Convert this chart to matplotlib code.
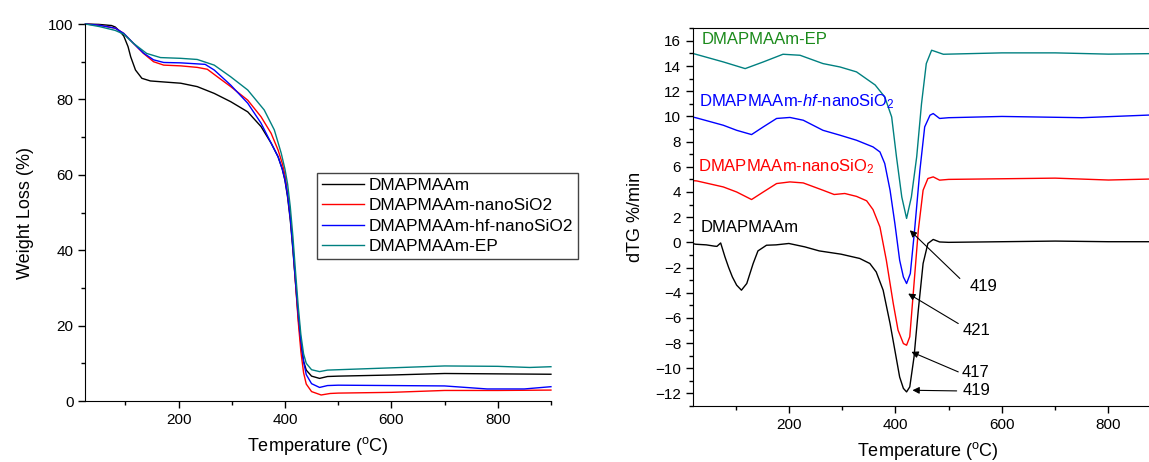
import numpy as np
import matplotlib
matplotlib.use('Agg')
import matplotlib.pyplot as plt
from matplotlib.ticker import MultipleLocator

plt.rcParams['font.family'] = ['Liberation Sans', 'DejaVu Sans']
plt.rcParams['mathtext.fontset'] = 'custom'
plt.rcParams['mathtext.rm'] = 'Liberation Sans'
plt.rcParams['mathtext.it'] = 'Liberation Sans:italic'

# ---- TG data (weight loss %) ----
t_tg_base = [25, 50, 74, 81, 90, 97, 105, 110, 119, 131, 147, 175, 204, 235, 267, 298, 330, 355,
             374, 387, 395, 400, 405, 410, 415, 420, 425, 430, 435, 440, 450, 465, 480, 500, 600,
             700, 800, 900]
w_tg_base = [100, 99.9, 99.6, 99.2, 98.0, 96.8, 94.0, 91.3, 87.8, 85.6, 84.9, 84.6, 84.3, 83.4,
             81.6, 79.4, 76.7, 72.8, 68.4, 64.8, 61.5, 58.5, 54, 48, 40, 31, 22, 15, 10.5, 8.2,
             6.6, 6.0, 6.5, 6.6, 6.9, 7.3, 7.2, 7.1]

t_tg_nano = [25, 50, 81, 97, 115, 134, 153, 172, 204, 235, 254, 273, 298, 330, 355, 374, 387, 395,
             400, 405, 410, 415, 420, 425, 430, 435, 440, 450, 468, 485, 500, 600, 700, 800, 900]
w_tg_nano = [100, 99.7, 98.9, 97.5, 94.9, 92.2, 90.0, 89.1, 88.9, 88.5, 88.0, 86.0, 83.4, 79.8,
             75.4, 71.0, 66.6, 63, 60, 55, 49, 41, 31, 21, 13, 7.5, 4.5, 2.5, 1.6, 2.0, 2.1, 2.3,
             2.8, 2.8, 2.9]

t_tg_hf = [25, 50, 81, 97, 115, 134, 153, 172, 204, 250, 267, 298, 330, 355, 374, 387, 395, 400,
           405, 410, 415, 420, 425, 430, 435, 440, 450, 465, 480, 500, 600, 700, 780, 850, 900]
w_tg_hf = [100, 99.7, 98.9, 97.5, 94.9, 92.3, 90.5, 89.8, 89.7, 89.3, 87.8, 83.8, 79.0, 73.7, 68.4,
           64.8, 61.5, 58.7, 54.5, 48.5, 40.5, 31.5, 23, 16, 10.5, 7, 4.6, 3.6, 4.1, 4.2, 4.1, 4.0,
           3.2, 3.2, 3.8]

t_tg_ep = [25, 52, 81, 97, 115, 140, 166, 204, 235, 267, 298, 330, 361, 380, 393, 400, 405, 410,
           415, 420, 425, 430, 435, 440, 450, 465, 480, 500, 600, 700, 800, 860, 900]
w_tg_ep = [100, 99.3, 98.3, 97.3, 94.9, 92.2, 91.1, 90.9, 90.6, 89.1, 86.0, 82.5, 77.2, 71.9, 65.7,
           61.5, 57.5, 51.5, 43.5, 34, 25, 17.5, 12.5, 10, 8.3, 7.8, 8.2, 8.3, 8.8, 9.3, 9.2, 8.9,
           9.1]

# ---- dTG data (%/min, curves offset by 0 / 5 / 10 / 15) ----
t_dtg_base = [20, 25, 45, 60, 65, 72, 80, 87, 94, 102, 111, 121, 133, 142, 158, 176, 200, 230, 257,
              298, 333, 352, 364, 377, 390, 399, 408, 415, 421, 427, 435, 443, 452, 461, 471, 483,
              500, 600, 700, 800, 900]
v_dtg_base = [-0.1, -0.15, -0.2, -0.3, -0.32, -0.05, -1.15, -2.0, -2.75, -3.4, -3.8, -3.27, -1.68,
              -0.68, -0.23, -0.2, -0.09, -0.36, -0.68, -0.94, -1.28, -1.68, -2.35, -3.8, -6.45,
              -8.57, -10.7, -11.6, -11.88, -11.48, -9.1, -5.39, -1.68, -0.09, 0.23, 0.03, 0.0,
              0.05, 0.1, 0.05, 0.05]

t_dtg_nano = [20, 27, 77, 102, 130, 152, 177, 202, 227, 264, 285, 305, 327, 346, 358, 371, 383,
              396, 405, 415, 421, 427, 433, 443, 452, 461, 471, 483, 500, 600, 700, 800, 900]
v_dtg_nano = [4.9, 4.88, 4.4, 4.0, 3.4, 4.0, 4.67, 4.8, 4.72, 4.14, 3.8, 3.88, 3.65, 3.3, 2.6,
              1.22, -1.42, -4.86, -6.98, -8.04, -8.17, -7.5, -4.33, 0.96, 4.14, 5.07, 5.2, 4.94,
              5.0, 5.05, 5.1, 4.95, 5.05]

t_dtg_hf = [20, 27, 77, 102, 130, 152, 177, 202, 227, 264, 296, 327, 358, 371, 380, 390, 399, 408,
            415, 421, 428, 436, 446, 455, 465, 471, 483, 500, 600, 750, 900]
v_dtg_hf = [9.95, 9.88, 9.3, 8.9, 8.56, 9.17, 9.84, 9.92, 9.7, 8.9, 8.51, 8.11, 7.58, 7.18, 6.26,
            4.14, 1.5, -1.42, -2.75, -3.27, -2.48, 0.96, 5.73, 9.17, 10.1, 10.23, 9.84, 9.9, 10.0,
            9.9, 10.15]

t_dtg_ep = [20, 27, 77, 118, 152, 189, 221, 264, 296, 327, 362, 380, 393, 402, 412, 421, 430, 440,
            449, 458, 468, 477, 490, 600, 700, 800, 900]
v_dtg_ep = [15.0, 14.92, 14.33, 13.8, 14.33, 14.94, 14.86, 14.2, 13.93, 13.54, 12.5, 11.55, 9.96,
            6.8, 3.6, 1.9, 3.6, 6.8, 11.0, 14.2, 15.26, 15.13, 14.94, 15.05, 15.05, 14.95, 15.0]

names = ['DMAPMAAm', 'DMAPMAAm-nanoSiO2', 'DMAPMAAm-hf-nanoSiO2', 'DMAPMAAm-EP']
colors = ['black', 'red', 'blue', '#008080']

# peak labels: arrow tip, arrow tail, text position (data coords)
peak_labels = ['419', '421', '417', '419']
peak_tips = [(427, 0.96), (424, -4.07), (430, -8.7), (432, -11.75)]
peak_tails = [(521, -2.87), (518, -6.45), (518, -10.29), (515, -11.8)]
peak_text = [(540, -3.54), (527, -6.98), (524, -10.3), (527, -11.8)]

fig = plt.figure(figsize=(11.49, 4.62), dpi=100)

# ---------------- left: TG ----------------
ax1 = fig.add_axes([0.0744, 0.132, 0.4051, 0.816])
tg = [(t_tg_base, w_tg_base), (t_tg_nano, w_tg_nano), (t_tg_hf, w_tg_hf), (t_tg_ep, w_tg_ep)]
for (t, w), name, c in zip(tg, names, colors):
    ax1.plot(t, w, color=c, lw=1.0, label=name, clip_on=False)
ax1.set_xlim(25, 900)
ax1.set_ylim(0, 100)
ax1.spines['top'].set_visible(False)
ax1.spines['right'].set_visible(False)
ax1.xaxis.set_major_locator(MultipleLocator(200))
ax1.xaxis.set_minor_locator(MultipleLocator(100))
ax1.yaxis.set_major_locator(MultipleLocator(20))
ax1.yaxis.set_minor_locator(MultipleLocator(10))
ax1.tick_params(which='major', direction='out', length=5, width=1, labelsize=11)
ax1.tick_params(which='minor', direction='out', length=3, width=1)
ax1.set_xlabel('Temperature ($^{\\mathrm{o}}$C)', fontsize=13, labelpad=6)
ax1.set_ylabel('Weight Loss (%)', fontsize=13, labelpad=10)
ax1.legend(loc='upper left', bbox_to_anchor=(317 / 1149, 1 - 173 / 462),
           bbox_transform=fig.transFigure, fontsize=12.4, frameon=True, fancybox=False,
           edgecolor='#444444', framealpha=1, borderaxespad=0, handlelength=2.4,
           handletextpad=0.3, labelspacing=0.3, borderpad=0.3)

# ---------------- right: dTG ----------------
ax2 = fig.add_axes([0.6031, 0.1212, 0.408, 0.8175])
dtg = [(t_dtg_base, v_dtg_base), (t_dtg_nano, v_dtg_nano), (t_dtg_hf, v_dtg_hf), (t_dtg_ep, v_dtg_ep)]
for (t, v), c in zip(dtg, colors):
    ax2.plot(t, v, color=c, lw=1.0)
ax2.set_xlim(20, 900)
ax2.set_ylim(-13, 17)
ax2.xaxis.set_major_locator(MultipleLocator(200))
ax2.xaxis.set_minor_locator(MultipleLocator(100))
ax2.yaxis.set_major_locator(MultipleLocator(2))
ax2.yaxis.set_minor_locator(MultipleLocator(1))
ax2.tick_params(which='major', direction='out', length=5, width=1, labelsize=11)
ax2.tick_params(which='minor', direction='out', length=3, width=1)
ax2.set_xlabel('Temperature ($^{\\mathrm{o}}$C)', fontsize=13, labelpad=6)
ax2.set_ylabel('dTG %/min', fontsize=13, labelpad=8)

ax2.text(37, 16.1, 'DMAPMAAm-EP', color='#1a8a1a', fontsize=12, va='center')
ax2.text(31, 11.2, 'DMAPMAAm-$\\it{hf}$-nanoSiO$_2$', color='blue', fontsize=12, va='center')
ax2.text(29, 6.0, 'DMAPMAAm-nanoSiO$_2$', color='red', fontsize=12, va='center')
ax2.text(35, 1.15, 'DMAPMAAm', color='black', fontsize=12, va='center')

for lab, tip, tail, pos in zip(peak_labels, peak_tips, peak_tails, peak_text):
    ax2.annotate('', xy=tip, xytext=tail,
                 arrowprops=dict(arrowstyle='-|>', color='black', lw=0.8,
                                 mutation_scale=10, shrinkA=0, shrinkB=0))
    ax2.text(pos[0], pos[1], lab, fontsize=12, va='center', ha='left')

fig.savefig('out.png', dpi=100)
